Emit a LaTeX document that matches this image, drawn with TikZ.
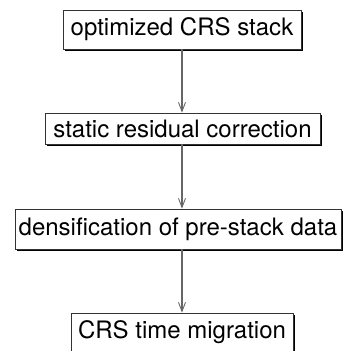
\documentclass[tikz,border=0pt]{standalone}
\usepackage{fontspec}
\setmainfont{TeX Gyre Heros}
\usetikzlibrary{arrows.meta,shadows}
\begin{document}
\begin{tikzpicture}[x=1pt,y=1pt,
  stepbox/.style={draw=black!80, line width=0.8pt, fill=white, inner sep=0pt,
    font=\fontsize{24}{28}\selectfont,
    drop shadow={shadow xshift=2.4pt, shadow yshift=-2.4pt, fill=black, opacity=1}},
  flow/.style={draw=black!60, line width=1.1pt, -{Straight Barb[length=9pt,width=7pt,line width=0.9pt]}}]
\useasboundingbox (0,0) rectangle (344,351);
\node[stepbox, minimum width=238pt, minimum height=39pt] (b1) at (182,321.5) {optimized CRS stack};
\node[stepbox, minimum width=275pt, minimum height=31pt] (b2) at (182.5,222.5) {static residual correction};
\node[stepbox, minimum width=326pt, minimum height=40pt] (b3) at (178,122) {densification of pre-stack data};
\node[stepbox, minimum width=222pt, minimum height=39pt] (b4) at (182,18.5) {CRS time migration};
\coordinate (a1) at (182,0);
\draw[flow] (b1.south -| a1) -- (b2.north -| a1);
\draw[flow] (b2.south -| a1) -- (b3.north -| a1);
\draw[flow] (b3.south -| a1) -- (b4.north -| a1);
\end{tikzpicture}
\end{document}
